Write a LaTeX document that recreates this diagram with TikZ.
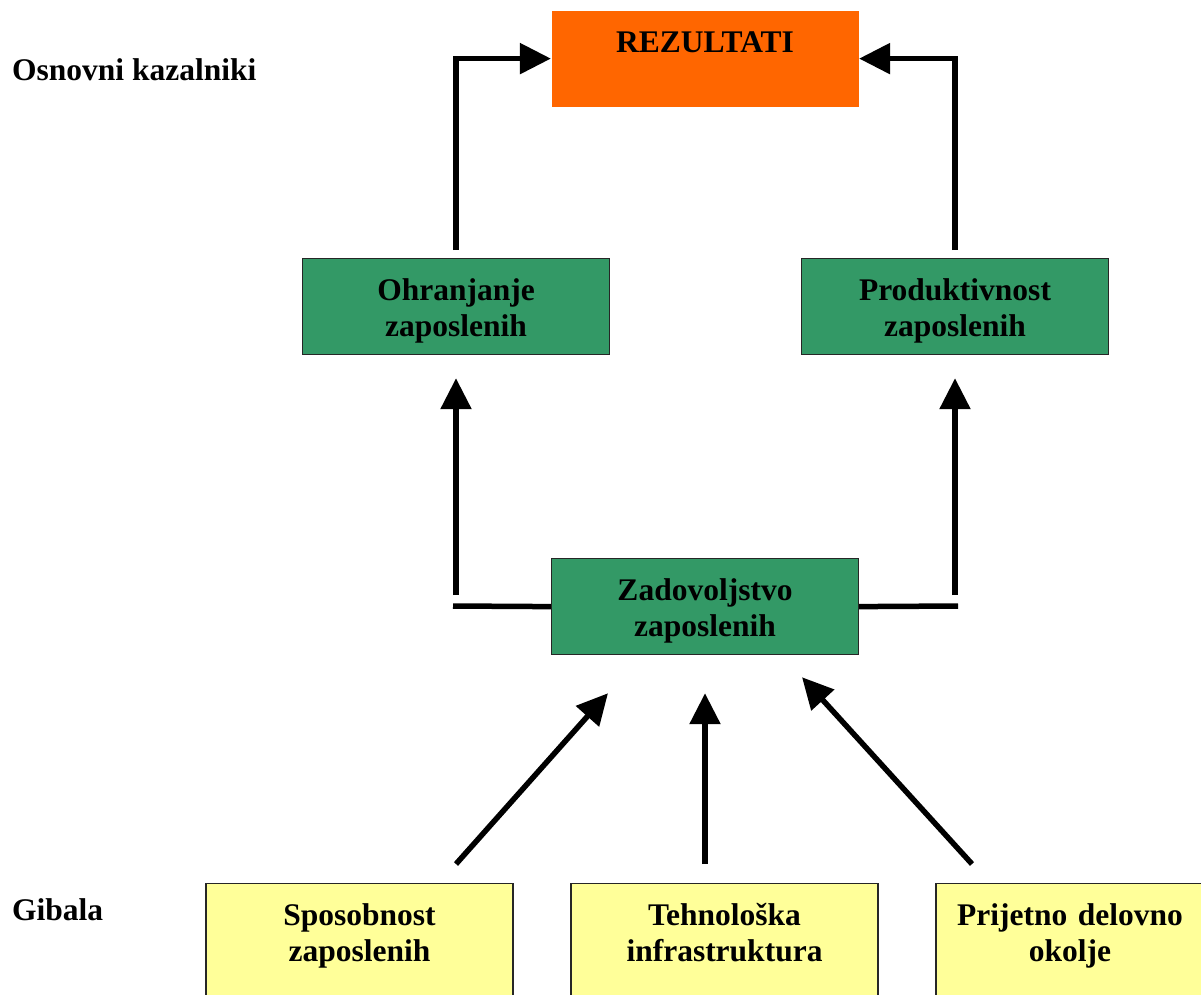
\documentclass[tikz,border=0pt]{standalone}
\usepackage{fontspec}
\setmainfont{Liberation Serif}
\usetikzlibrary{arrows.meta}
\definecolor{rezorange}{HTML}{FF6600}
\definecolor{boxgreen}{HTML}{339966}
\definecolor{boxyellow}{HTML}{FFFF99}
\begin{document}
\begin{tikzpicture}[x=1pt,y=-1pt,
  txt/.style={font=\bfseries\fontsize{31.5}{36}\selectfont},
  box/.style={txt, line width=1.2pt, minimum width=307pt, text width=307pt,
    align=center, inner sep=0pt, text height=42pt, text depth=54pt, anchor=north},
  rezbox/.style={box, fill=rezorange, draw=none},
  greenbox/.style={box, fill=boxgreen, draw=black!85},
  yellowbox/.style={box, fill=boxyellow, draw=black!85, text depth=200pt},
  lbl/.style={txt, inner sep=0pt, anchor=base west},
  conn/.style={line width=5.5pt, line join=miter},
  arr/.style={conn, -{Triangle[length=31pt,width=30pt]}}
]
\useasboundingbox (0,0) rectangle (1201,994);
\clip (0,0) rectangle (1201,994);

% labels
\node[lbl] (osn) at (12,80) {Osnovni kazalniki};
\node[lbl] (gib) at (12,920) {Gibala};

% boxes
\node[rezbox] (rez) at (705,10) {REZULTATI};
\node[greenbox] (ohr) at (456,258) {Ohranjanje\\zaposlenih};
\node[greenbox] (prod) at (955,258) {Produktivnost\\zaposlenih};
\node[greenbox] (zad) at (705,558) {Zadovoljstvo\\zaposlenih};
\node[yellowbox] (sp) at (359.5,883) {Sposobnost\\zaposlenih};
\node[yellowbox] (teh) at (724.5,883) {Tehnološka\\infrastruktura};
\node[yellowbox] (pri) at (1089.5,883) {\hspace*{-39pt}Prijetno delovno\\\hspace*{-39pt}okolje};

% top connectors
\draw[arr] ([yshift=8pt]ohr.north) |- (rez.west);
\draw[arr] ([yshift=8pt]prod.north) |- (rez.east);

% from Zadovoljstvo to the middle boxes
\coordinate (zlh) at (453,606);
\coordinate (zrh) at (958,606);
\coordinate (zlv) at (456,595);
\coordinate (zrv) at (955,595);
\draw[conn] (zad.west) -- (zlh);
\draw[conn] (zad.east) -- (zrh);
\draw[arr] (zlv) -- ([yshift=-23pt]ohr.south);
\draw[arr] (zrv) -- ([yshift=-23pt]prod.south);

% bottom drivers
\draw[arr] ([xshift=96.5pt,yshift=19pt]sp.north) -- ([xshift=-97pt,yshift=-38pt]zad.south);
\draw[arr] ([xshift=-19.5pt,yshift=19pt]teh.north) -- ([yshift=-38pt]zad.south);
\draw[arr] ([xshift=-117.5pt,yshift=19pt]pri.north) -- ([xshift=97pt,yshift=-22pt]zad.south);
\end{tikzpicture}
\end{document}
